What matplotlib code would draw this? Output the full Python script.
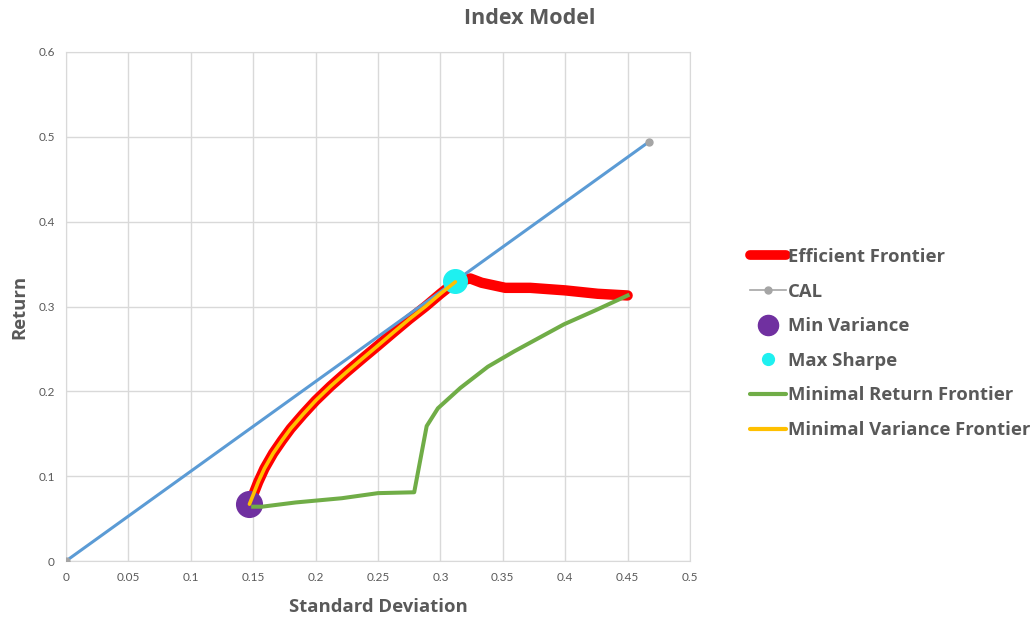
import matplotlib
matplotlib.use("Agg")
import matplotlib.pyplot as plt
from matplotlib.lines import Line2D

plt.rcParams["font.family"] = ["Lato", "DejaVu Sans"]
BOLD_FONT = ["Open Sans", "DejaVu Sans"]

# Efficient frontier (std dev, return)
ef_std = [0.147, 0.150, 0.154, 0.159, 0.166, 0.173, 0.180, 0.190, 0.200, 0.212, 0.225,
          0.237, 0.250, 0.262, 0.275, 0.288, 0.300, 0.312,
          0.324, 0.333, 0.352, 0.372, 0.400, 0.426, 0.450]
ef_ret = [0.067, 0.078, 0.093, 0.109, 0.127, 0.142, 0.156, 0.173, 0.189, 0.206, 0.223,
          0.238, 0.254, 0.269, 0.285, 0.300, 0.315, 0.329,
          0.333, 0.328, 0.322, 0.322, 0.319, 0.315, 0.313]

# Capital allocation line
cal_std = [0.0, 0.467]
cal_ret = [0.0, 0.494]

minvar_std, minvar_ret = 0.147, 0.067
maxsharpe_std, maxsharpe_ret = 0.312, 0.330

# Minimal return frontier
mrf_std = [0.150, 0.157, 0.184, 0.221, 0.250, 0.279, 0.289, 0.298, 0.316, 0.338,
           0.359, 0.399, 0.425, 0.450]
mrf_ret = [0.064, 0.064, 0.069, 0.074, 0.080, 0.081, 0.159, 0.180, 0.204, 0.229,
           0.247, 0.279, 0.296, 0.313]

# Minimal variance frontier
mvf_std = [0.147, 0.150, 0.154, 0.159, 0.166, 0.173, 0.180, 0.190, 0.200, 0.212, 0.225,
           0.237, 0.250, 0.262, 0.275, 0.288, 0.300, 0.312]
mvf_ret = [0.067, 0.078, 0.093, 0.109, 0.127, 0.142, 0.156, 0.173, 0.189, 0.206, 0.223,
           0.238, 0.254, 0.269, 0.285, 0.300, 0.315, 0.329]

GRAY = "#595959"
GRID = "#d9d9d9"
RED, BLUE, PURPLE, CYAN = "#ff0000", "#5b9bd5", "#7030a0", "#1ef0f0"
GREEN, ORANGE, MARK = "#70ad47", "#ffc000", "#a5a5a5"

fig = plt.figure(figsize=(10.33, 6.19), dpi=100)
ax = fig.add_axes([66 / 1033, 1 - 561 / 619, (690 - 66) / 1033, (561 - 52) / 619])

ax.plot(ef_std, ef_ret, color=RED, lw=7.5, solid_capstyle="round", solid_joinstyle="round", zorder=2)
ax.plot(cal_std, cal_ret, color=BLUE, lw=2.2, zorder=3)
ax.plot(cal_std, cal_ret, ls="none", marker="o", ms=5, color=MARK, zorder=3)
ax.plot([minvar_std], [minvar_ret], ls="none", marker="o", ms=18.5, color=PURPLE, zorder=4)
ax.plot([maxsharpe_std], [maxsharpe_ret], ls="none", marker="o", ms=17, color=CYAN, zorder=4)
ax.plot(mrf_std, mrf_ret, color=GREEN, lw=2.9, solid_joinstyle="round", zorder=5)
ax.plot(mvf_std, mvf_ret, color=ORANGE, lw=2.6, solid_capstyle="round", solid_joinstyle="round", zorder=6)

ax.set_xlim(0, 0.5)
ax.set_ylim(0, 0.6)
ax.set_xticks([i * 0.05 for i in range(11)])
ax.set_xticklabels(["0", "0.05", "0.1", "0.15", "0.2", "0.25", "0.3", "0.35", "0.4", "0.45", "0.5"])
ax.set_yticks([i * 0.1 for i in range(7)])
ax.set_yticklabels(["0", "0.1", "0.2", "0.3", "0.4", "0.5", "0.6"])
ax.tick_params(length=0, labelsize=8.5, labelcolor=GRAY, pad=8)
ax.grid(True, color=GRID, lw=1)
ax.set_axisbelow(True)
for s in ax.spines.values():
    s.set_color(GRID)

ax.set_xlabel("Standard Deviation", fontsize=13.3, fontweight="bold", color=GRAY,
              labelpad=11, family=BOLD_FONT)
ax.set_ylabel("Return", fontsize=13.3, fontweight="bold", color=GRAY,
              labelpad=7, family=BOLD_FONT)
fig.text(530 / 1033, 1 - 19 / 619, "Index Model", ha="center", va="center",
         fontsize=15.5, fontweight="bold", color=GRAY, family=BOLD_FONT)

handles = [
    Line2D([], [], color=RED, lw=7, solid_capstyle="round"),
    Line2D([], [], color=MARK, lw=1.2, marker="o", ms=5),
    Line2D([], [], ls="none", color=PURPLE, marker="o", ms=14.5),
    Line2D([], [], ls="none", color=CYAN, marker="o", ms=8.5),
    Line2D([], [], color=GREEN, lw=3, solid_capstyle="round"),
    Line2D([], [], color=ORANGE, lw=3, solid_capstyle="round"),
]
labels = ["Efficient Frontier", "CAL", "Min Variance", "Max Sharpe",
          "Minimal Return Frontier", "Minimal Variance Frontier"]
leg = fig.legend(handles, labels, loc="center left", bbox_to_anchor=(750 / 1033, 1 - 343.5 / 619),
                 frameon=False, handlelength=1.95, handletextpad=0.1,
                 labelspacing=0.9, borderpad=0, borderaxespad=0,
                 prop={"family": BOLD_FONT, "size": 13.3, "weight": "bold"})
for t in leg.get_texts():
    t.set_color(GRAY)

fig.savefig("out.png", dpi=100)
